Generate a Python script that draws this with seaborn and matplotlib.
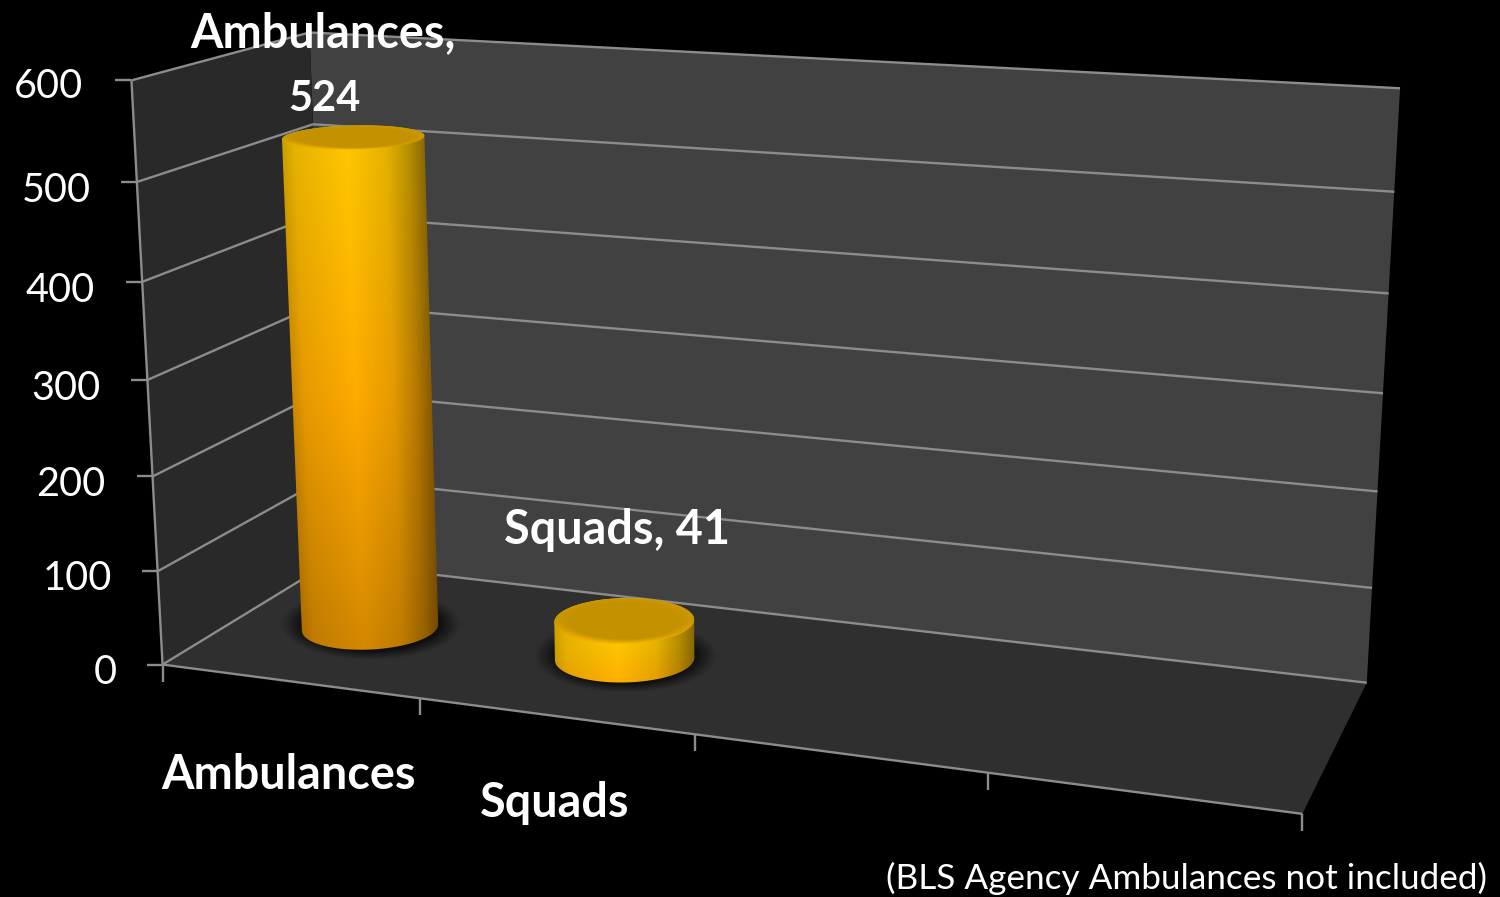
import numpy as np
import pandas as pd
import matplotlib
matplotlib.use("Agg")
import matplotlib.pyplot as plt
from matplotlib.patches import Polygon
from matplotlib.transforms import Transform
import seaborn as sns

# ---- data ----
categories = ["Ambulances", "Squads", " ", "  "]
values = [524, 41, np.nan, np.nan]
y_ticks = [0, 100, 200, 300, 400, 500, 600]
data_labels = ["Ambulances,\n524", "Squads, 41"]
note = "(BLS Agency Ambulances not included)"

W, H = 1500, 897
FONT = "Lato"

# ---- camera: (category position, value, depth) -> reference pixel, fitted to the frame corners ----
frame_world = np.array([
    (-.5, 600, 0), (-.5, 0, 0), (3.5, 0, 0), (.5, 0, 0), (1.5, 0, 0), (2.5, 0, 0),
    (-.5, 0, 1), (3.5, 0, 1), (-.5, 600, 1), (3.5, 600, 1),
], float)
frame_px = np.array([
    (131, 80), (163, 664), (1302, 813), (420, 699), (695, 735), (988, 773),
    (329, 562), (1367, 683), (310, 33), (1400, 88),
], float)


def fit_camera(wp, ip):
    rows = []
    for (X, Y, Z), (u, v) in zip(wp, ip):
        Y = Y / 600
        u, v = u / 1000, v / 1000
        rows.append([X, Y, Z, 1, 0, 0, 0, 0, -u * X, -u * Y, -u * Z, -u])
        rows.append([0, 0, 0, 0, X, Y, Z, 1, -v * X, -v * Y, -v * Z, -v])
    return np.linalg.svd(np.array(rows))[2][-1].reshape(3, 4)


CAM = fit_camera(frame_world, frame_px)


def project(x, y, z):
    x, y, z = np.broadcast_arrays(np.asarray(x, float), np.asarray(y, float) / 600, np.asarray(z, float))
    h = np.stack([x, y, z, np.ones_like(x)], axis=-1) @ CAM.T
    return h[..., :2] / h[..., 2:] * 1000


class BarPlane(Transform):
    """Maps (category, value) on the mid-depth plane to figure pixels."""
    input_dims = 2
    output_dims = 2

    def __init__(self, plane_depth):
        super().__init__()
        self.plane_depth = plane_depth

    def transform_non_affine(self, values):
        p = project(values[:, 0], values[:, 1], self.plane_depth)
        return np.column_stack([p[:, 0], H - p[:, 1]])


# ---- figure and layers ----
sns.set_theme(style="dark", rc={"figure.facecolor": "black", "axes.facecolor": "none"})
plt.rcParams["font.family"] = [FONT, "DejaVu Sans"]
fig = plt.figure(figsize=(W / 100, H / 100), dpi=100, facecolor="black")


def pixel_layer(z):
    a = fig.add_axes([0, 0, 1, 1], zorder=z)
    a.set_xlim(0, W)
    a.set_ylim(H, 0)
    a.set_axis_off()
    return a


back = pixel_layer(0)
front = pixel_layer(2)

# walls
XL, XR = -.5, 3.5
YT = y_ticks[-1]
WALL, SIDE, FLOOR = "#414141", "#292929", "#2f2f2f"
LINE = "#8c8c8c"
poly = lambda pts, c: back.add_patch(Polygon(np.array(pts), closed=True, fc=c, ec="none", zorder=1))
poly([project(XL, 0, 1), project(XR, 0, 1), project(XR, YT, 1), project(XL, YT, 1)], WALL)
poly([project(XL, 0, 0), project(XL, 0, 1), project(XL, YT, 1), project(XL, YT, 0)], SIDE)
poly([project(XL, 0, 0), project(XR, 0, 0), project(XR, 0, 1), project(XL, 0, 1)], FLOOR)


def seg(p, q, lw=1.7, c=LINE):
    back.plot([p[0], q[0]], [p[1], q[1]], color=c, lw=lw, zorder=2, solid_capstyle="butt")


for v in y_ticks:
    a, b, c = project(XL, v, 0), project(XL, v, 1), project(XR, v, 1)
    seg(a, b)
    seg(b, c)
    seg((a[0] - 16, a[1]), a)
seg(project(XL, 0, 0), project(XL, YT, 0))
seg(project(XL, 0, 0), project(XR, 0, 0))
for xt in np.arange(XL, XR + .5):
    p = project(xt, 0, 0)
    seg(p, (p[0], p[1] + 17))

# ---- bars: seaborn barplot on the plane through the middle of the depth ----
BAR_DEPTH, BAR_WIDTH, DEPTH_R = .49, .49, .20
ax = fig.add_axes([0, 0, 1, 1], zorder=1)
df = pd.DataFrame({"category": categories, "count": values})
sns.barplot(data=df, x="category", y="count", ax=ax, color="#E89A00", width=BAR_WIDTH,
            saturation=1, order=categories)
ax.set_xlim(XL, XR)
ax.set_ylim(0, YT)
ax.set_axis_off()
plane = BarPlane(BAR_DEPTH)
bars = [p for p in ax.patches if np.isfinite(p.get_height()) and p.get_height() > 0]
for p in bars:
    p.set_transform(plane)
    p.set_edgecolor("none")


def lerp(a, b, t):
    return np.asarray(a, float) + (np.asarray(b, float) - np.asarray(a, float)) * t[..., None]


def hull(pts):
    pts = sorted(map(tuple, pts))

    def turn(o, a, b):
        return (a[0] - o[0]) * (b[1] - o[1]) - (a[1] - o[1]) * (b[0] - o[0])

    def half(seq):
        out = []
        for q in seq:
            while len(out) > 1 and turn(out[-2], out[-1], q) <= 0:
                out.pop()
            out.append(q)
        return out[:-1]
    return np.array(half(pts) + half(pts[::-1]))


T = np.linspace(0, 2 * np.pi, 181)
for p in bars:
    xc = p.get_x() + p.get_width() / 2
    r = p.get_width() / 2
    ring = lambda v: project(xc + r * np.cos(T), v, BAR_DEPTH + DEPTH_R * np.sin(T))
    top, bot = ring(p.get_height()), ring(0)
    tc, bc = top.mean(0), bot.mean(0)
    thw, bhw = np.ptp(top[:, 0]) / 2, np.ptp(bot[:, 0]) / 2

    # soft shadow on the floor
    x0, x1 = bot[:, 0].min() - 45, bot[:, 0].max() + 45
    y0, y1 = bot[:, 1].min() - 40, bot[:, 1].max() + 30
    gx, gy = np.meshgrid(np.linspace(x0, x1, 240), np.linspace(y0, y1, 160))
    hh = np.ptp(bot[:, 1]) / 2
    dist = np.hypot((gx - bc[0]) / (bhw + 22), (gy - bc[1] + 3) / (hh + 13))
    alpha = np.clip((1 - dist) / .26, 0, 1) * .72
    rgba = np.zeros(gx.shape + (4,))
    rgba[..., 3] = alpha
    back.imshow(rgba, extent=(x0, x1, y1, y0), aspect="auto", zorder=3, interpolation="bilinear")

    # body
    sil = hull(np.vstack([top, bot]))
    x0, x1, y0, y1 = sil[:, 0].min(), sil[:, 0].max(), sil[:, 1].min(), sil[:, 1].max()
    gx, gy = np.meshgrid(np.linspace(x0, x1, 300), np.linspace(y0, y1, 500))
    v = np.clip((gy - tc[1]) / (bc[1] - tc[1]), 0, 1)
    left = tc[0] - thw + (bc[0] - bhw - tc[0] + thw) * v
    right = tc[0] + thw + (bc[0] + bhw - tc[0] - thw) * v
    u = np.clip((gx - left) / (right - left), 0, 1)
    # vertical ramp measured from the front of the cap, shorter for a short bar
    front_y = top[:, 1].max()
    w = np.clip((gy - front_y) / (y1 - front_y), 0, 1) * (.35 + .65 * p.get_height() / YT * 600 / 524)
    w = np.clip(w, 0, 1)
    ramp = np.where(w < .5, 0, 1)[..., None] * lerp((255, 170, 0), (212, 136, 0), np.clip((w - .5) / .5, 0, 1)) \
        + np.where(w < .5, 1, 0)[..., None] * lerp((255, 198, 0), (255, 170, 0), np.clip(w / .5, 0, 1))
    shade = np.interp(u, [0, .08, .45, .72, .88, 1], [.80, .90, 1, .90, .72, .52])
    body = np.concatenate([np.clip(ramp * shade[..., None], 0, 255) / 255, np.ones(gx.shape + (1,))], axis=2)
    im = front.imshow(body, extent=(x0, x1, y1, y0), aspect="auto", zorder=3, interpolation="bilinear")
    im.set_clip_path(Polygon(sil, closed=True, transform=front.transData))

    # cap
    x0, x1, y0, y1 = top[:, 0].min(), top[:, 0].max(), top[:, 1].min(), top[:, 1].max()
    gx, gy = np.meshgrid(np.linspace(x0, x1, 300), np.linspace(y0, y1, 120))
    rr = np.hypot((gx - tc[0]) / thw, (gy - tc[1]) / (np.ptp(top[:, 1]) / 2))
    rim = np.clip((rr - .80) / .2, 0, 1)[..., None]
    low = np.clip((gy - tc[1]) / (np.ptp(top[:, 1]) / 2), 0, 1)[..., None]
    cap = (1 - rim) * np.array([196, 146, 0.]) + rim * (np.array([205, 152, 0.]) * (1 - low) + np.array([248, 184, 0.]) * low)
    capi = np.concatenate([cap / 255, np.ones(gx.shape + (1,))], axis=2)
    im = front.imshow(capi, extent=(x0, x1, y1, y0), aspect="auto", zorder=4, interpolation="bilinear")
    im.set_clip_path(Polygon(top, closed=True, transform=front.transData))

for a in (back, front):
    a.set_xlim(0, W)
    a.set_ylim(H, 0)

# ---- text ----
ytick_pos = [(105, 672), (77, 578), (71, 484), (66, 388), (60, 291), (56, 190), (48, 86)]
for val, (tx, ty) in zip(y_ticks, ytick_pos):
    front.text(tx, ty, str(val), color="white", fontsize=28.5, ha="center", va="center", family=FONT)
front.text(289, 775, categories[0], color="white", fontsize=33.7, weight="bold", ha="center", va="center", family=FONT)
front.text(555, 803, categories[1], color="white", fontsize=33.7, weight="bold", ha="center", va="center", family=FONT)
lab1 = data_labels[0].split("\n")
front.text(323, 33, lab1[0], color="white", fontsize=33.7, weight="bold", ha="center", va="center", family=FONT)
front.text(324, 99, lab1[1], color="white", fontsize=30, weight="bold", ha="center", va="center", family=FONT)
front.text(617, 530, data_labels[1], color="white", fontsize=33.7, weight="bold", ha="center", va="center", family=FONT)
front.text(1187, 878, note, color="white", fontsize=25.3, ha="center", va="center", family=FONT)

fig.savefig("out.png", dpi=100, facecolor="black")
